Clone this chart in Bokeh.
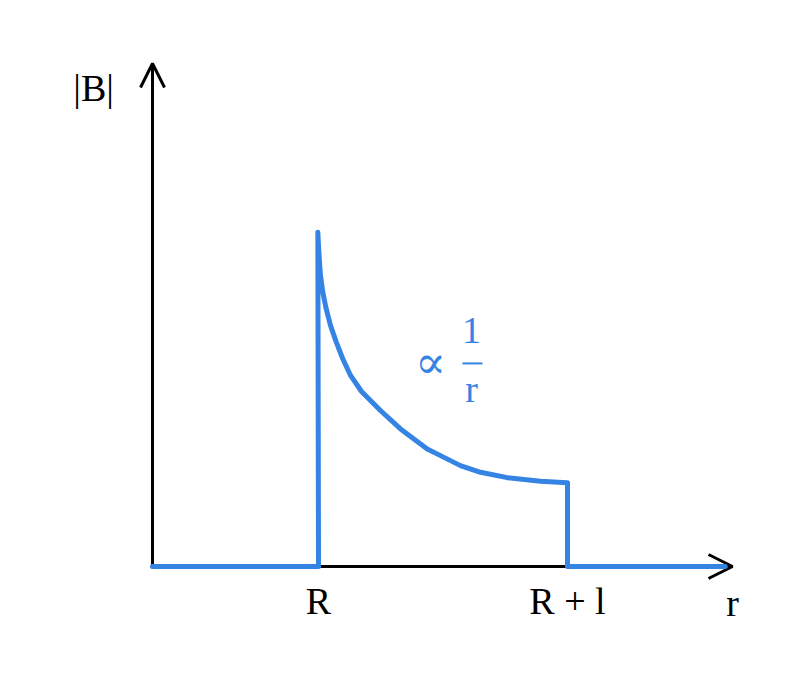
from bokeh.plotting import figure
from bokeh.models import Range1d, Arrow, OpenHead
from bokeh.core.properties import value
from bokeh.embed import file_html
from bokeh.resources import INLINE

# ---- data (r in units of R, |B| normalised to the peak) ----
R = 1.0
L = 1.5                      # R + l = 2.5
x_axis_end = 3.494
y_axis_end = 1.506
blue_end = 3.45

r_curve = [0.996, 1.000, 1.006, 1.012, 1.026, 1.046, 1.072, 1.107, 1.146, 1.193, 1.259,
           1.373, 1.494, 1.655, 1.735, 1.855, 1.976, 2.137, 2.337, 2.498]
b_curve = [1.001, 0.960, 0.910, 0.871, 0.821, 0.772, 0.722, 0.672, 0.622, 0.572, 0.524,
           0.467, 0.412, 0.352, 0.332, 0.302, 0.282, 0.266, 0.255, 0.251]

tick_pos = [R, R + L]
tick_labels = ["R", "R + l"]

BLUE = "#3584e4"
FONT = value("Liberation Serif")

p = figure(width=800, height=679, output_backend="svg", toolbar_location=None,
           x_range=Range1d(-0.9157, 3.9036), y_range=Range1d(-0.3383, 1.6946),
           min_border=0, outline_line_color=None)
p.axis.visible = False
p.grid.visible = False
p.background_fill_color = "white"
p.border_fill_color = "white"

# axes with open arrow heads
p.add_layout(Arrow(end=OpenHead(size=24, line_width=3, line_color="black"),
                   x_start=0, y_start=0, x_end=x_axis_end, y_end=0,
                   line_width=3, line_color="black", level="underlay"))
p.add_layout(Arrow(end=OpenHead(size=24, line_width=3, line_color="black"),
                   x_start=0, y_start=-0.005, x_end=0, y_end=y_axis_end,
                   line_width=3, line_color="black", level="underlay"))

# |B| profile
xs = [0.0, R] + r_curve + [R + L, R + L, blue_end]
ys = [0.0, 0.0] + b_curve + [b_curve[-1], 0.0, 0.0]
p.line(xs, ys, line_color=BLUE, line_width=5, line_join="round", line_cap="round")

# tick labels
p.text(x=tick_pos, y=[-0.104, -0.104], text=tick_labels, text_font=FONT,
       text_font_size=value("38px"), text_align="center", text_baseline="alphabetic",
       text_color="black")
p.text(x=[3.494], y=[-0.108], text=["r"], text_font=FONT, text_font_size=value("38px"),
       text_align="center", text_baseline="alphabetic", text_color="black")
p.text(x=[-0.355], y=[1.432], text=["|B|"], text_font=FONT, text_font_size=value("38px"),
       text_align="center", text_baseline="alphabetic", text_color="black")

# proportionality label
p.text(x=[1.675], y=[0.611], text=["∝"], text_font=value("DejaVu Serif"),
       text_font_size=value("46px"), text_align="center", text_baseline="middle",
       text_color=BLUE)
p.text(x=[1.922], y=[0.706], text=["1"], text_font=FONT, text_font_size=value("38px"),
       text_align="center", text_baseline="alphabetic", text_color=BLUE)
p.segment(x0=[1.867], y0=[0.608], x1=[1.988], y1=[0.608], line_color=BLUE, line_width=2)
p.text(x=[1.922], y=[0.532], text=["r"], text_font=FONT, text_font_size=value("38px"),
       text_align="center", text_baseline="alphabetic", text_color=BLUE)

open("out.html", "w").write(file_html(p, INLINE))
